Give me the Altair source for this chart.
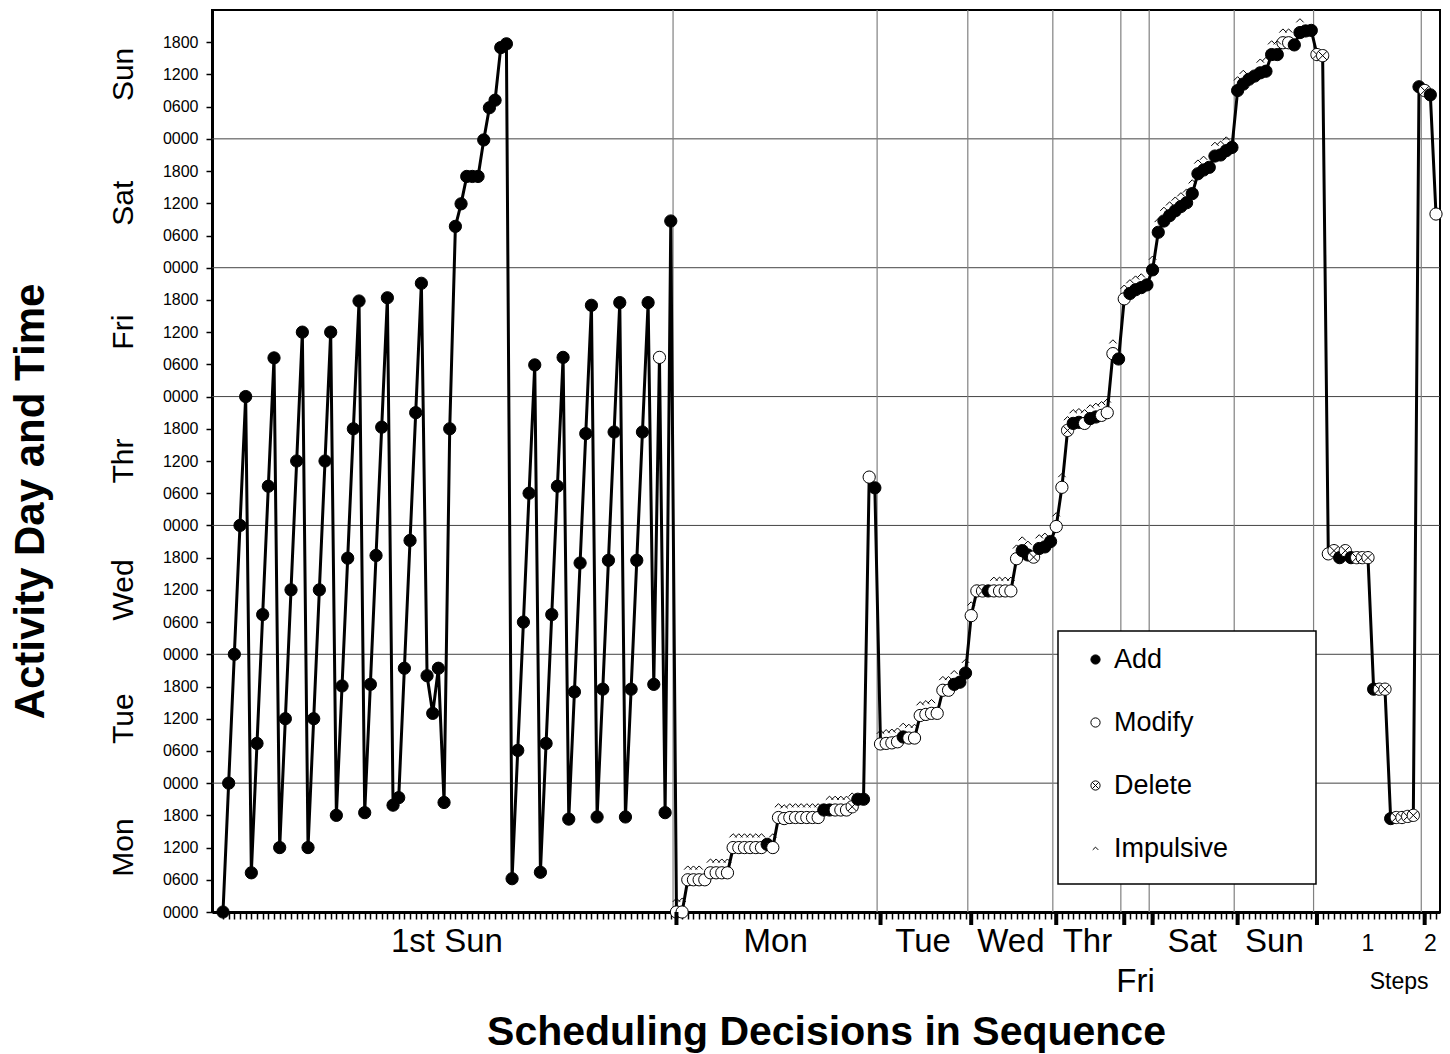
import altair as alt
import pandas as pd

# ---------------- data ----------------
hours_1st_sun = [0, 24, 48, 72, 96, 7.3, 31.4, 55.4, 79.3, 103.2, 12, 36, 60, 84, 108,
                 12, 36, 60, 84, 108, 18, 42.1, 65.9, 90, 113.8, 18.5, 42.4, 66.4, 90.3, 114.4,
                 19.9, 21.3, 45.4, 69.2, 93, 117.1, 44, 37, 45.4, 20.4, 90,
                 127.7, 131.9, 137, 137, 137, 143.8, 149.8, 151.2, 161, 161.7,
                 6.2, 30.1, 54, 78, 101.9, 7.4, 31.4, 55.4, 79.3, 103.3,
                 17.3, 41, 65, 89.1, 113, 17.7, 41.5, 65.5, 89.4, 113.5,
                 17.7, 41.5, 65.5, 89.4, 113.5, 42.4, 103.3, 18.5, 128.7]
kinds_1st_sun = "A" * 77 + "M" + "AA"
imp_1st_sun = [0] * 80

hours_mon = [0, 0, 6, 6, 6, 6, 7.3, 7.3, 7.3, 7.3, 12, 12, 12, 12, 12, 12, 12.6, 12,
             17.6, 17.4, 17.6, 17.6, 17.6, 17.6, 17.6, 17.6, 19, 19, 19, 19, 19, 19.6, 21, 21, 81, 79]
kinds_mon = "MM" + "MMMM" + "MMMM" + "MMMMMM" + "A" + "M" + "MMMMMMMM" + "AA" + "MMM" + "D" + "AA" + "M" + "A"
imp_mon = [1, 1, 1, 1, 1, 0, 1, 1, 1, 1, 1, 1, 1, 1, 1, 1, 0, 1,
           1, 1, 1, 1, 1, 1, 1, 1, 0, 1, 1, 1, 1, 1, 0, 0, 0, 0]

hours_tue = [31.3, 31.4, 31.5, 31.7, 32.6, 32.4, 32.4, 36.6, 36.8, 37, 37, 41.3, 41.3, 42.4, 42.8, 44.5]
kinds_tue = "MMMMAMMMMMMMMAAA"
imp_tue = [1, 1, 1, 1, 1, 1, 1, 1, 1, 1, 0, 1, 1, 1, 0, 1]

hours_wed = [55.2, 59.8, 59.8, 59.8, 59.8, 59.8, 59.8, 59.8, 65.8, 67.3, 66.5, 66.1, 67.7, 68, 69]
kinds_wed = "MMDAMMMMMAADAAA"
imp_wed = [1, 0, 0, 0, 1, 1, 1, 1, 1, 1, 1, 0, 1, 1, 0]

hours_thr = [71.8, 79.1, 89.7, 91, 91.2, 91, 91.9, 92.2, 92.5, 93, 104, 103]
kinds_thr = "MMDAAMAAMMMA"
imp_thr = [1, 1, 1, 1, 1, 1, 1, 1, 1, 1, 1, 0]

hours_fri = [114.2, 115.2, 115.9, 116.3, 116.8]
kinds_fri = "MAAAA"
imp_fri = [1, 1, 1, 1, 0]

hours_sat = [119.6, 126.6, 128.7, 129.7, 130.6, 131.4, 132.1, 133.8, 137.5, 138.2, 138.7,
             140.8, 141, 141.8, 142.4]
kinds_sat = "A" * 15
imp_sat = [1, 1, 1, 1, 1, 1, 1, 1, 1, 1, 0, 1, 1, 1, 0]

hours_sun = [153, 154.2, 155.1, 155.7, 156.3, 156.6, 159.7, 159.7, 161.9, 161.9, 161.5, 163.8, 164.1, 164.2]
kinds_sun = "AAAAAAAAMMAAAA"
imp_sun = [1, 1, 0, 0, 1, 1, 1, 1, 1, 1, 0, 1, 0, 0]

hours_step1 = [159.7, 159.5, 66.7, 67.3, 66, 67.3, 66, 66, 66, 66, 41.5, 41.5, 41.5,
               17.4, 17.6, 17.6, 17.8, 18, 153.7]
kinds_step1 = "DDMDADADDDADDADDDDA"
imp_step1 = [0] * 19

hours_step2 = [153, 152.2, 130]
kinds_step2 = "DAM"
imp_step2 = [0, 0, 0]

group_labels = ["1st Sun", "Mon", "Tue", "Wed", "Thr", "Fri", "Sat", "Sun", "1", "2"]
group_hours = [hours_1st_sun, hours_mon, hours_tue, hours_wed, hours_thr, hours_fri,
               hours_sat, hours_sun, hours_step1, hours_step2]
group_kinds = [kinds_1st_sun, kinds_mon, kinds_tue, kinds_wed, kinds_thr, kinds_fri,
               kinds_sat, kinds_sun, kinds_step1, kinds_step2]
group_imp = [imp_1st_sun, imp_mon, imp_tue, imp_wed, imp_thr, imp_fri,
             imp_sat, imp_sun, imp_step1, imp_step2]

day_names = ["Mon", "Tue", "Wed", "Thr", "Fri", "Sat", "Sun"]
kind_names = {"A": "Add", "M": "Modify", "D": "Delete"}
legend_order = ["Add", "Modify", "Delete", "Impulsive"]

# ---------------- tables ----------------
rows, starts, centers = [], [], []
i = 0
for g, (hs, ks, ims) in enumerate(zip(group_hours, group_kinds, group_imp)):
    starts.append(i)
    centers.append(i + (len(hs) - 1) / 2)
    for h, k, m in zip(hs, ks, ims):
        rows.append({"idx": i, "hours": h, "kind": kind_names[k], "imp": m})
        i += 1
N = i
df = pd.DataFrame(rows)
df_imp = df[df["imp"] == 1].copy()
df_imp["kind"] = "Impulsive"

grid_df = pd.DataFrame({"x": [s - 0.6 for s in starts[1:]]})
major_df = pd.DataFrame({"x": starts[1:]})
lab_main = pd.DataFrame({"x": centers[:8], "label": group_labels[:8]})
lab_main = lab_main[lab_main["label"] != "Fri"]
lab_fri = pd.DataFrame({"x": [centers[5]], "label": ["Fri"]})
lab_steps_num = pd.DataFrame({"x": centers[8:], "label": group_labels[8:]})
lab_steps = pd.DataFrame({"x": [(centers[8] + centers[9]) / 2], "label": ["Steps"]})
day_df = pd.DataFrame({"day": day_names, "h": [d * 24 + 12 for d in range(7)]})
day_bounds = pd.DataFrame({"h": [24, 48, 72, 96, 120, 144]})

W, H = 1228, 902
spacing = 1213 / (N - 1)
xdom = [-11 / spacing, -11 / spacing + W / spacing]

FONT = "Liberation Sans"

xscale = alt.Scale(domain=xdom, nice=False, zero=False)
yscale = alt.Scale(domain=[0, 168], nice=False, zero=False)

xaxis = alt.Axis(values=list(range(N)), labels=False, tickSize=7, tickWidth=1.5,
                 tickColor="black", domainColor="black", domainWidth=3, grid=False,
                 title="Scheduling Decisions in Sequence", titleFont=FONT, titleFontSize=41,
                 titleFontWeight="bold", titleColor="black", titleX=614, titleY=120,
                 titleBaseline="middle", titleAlign="center")
yaxis = alt.Axis(values=list(range(0, 168, 6)), tickSize=6, tickWidth=1.5, tickColor="black",
                 domainColor="black", domainWidth=3, grid=False, labelFont=FONT,
                 labelFontSize=16, labelColor="black", labelPadding=8,
                 labelExpr="(datum.value % 24 < 10 ? '0' : '') + (datum.value % 24) + '00'",
                 title="Activity Day and Time", titleFont=FONT, titleFontSize=42,
                 titleFontWeight="bold", titleColor="black", titleX=-182, titleY=491,
                 titleAngle=270, titleBaseline="middle", titleAlign="center")

X = alt.X("idx:Q", scale=xscale, axis=xaxis)
Y = alt.Y("hours:Q", scale=yscale, axis=yaxis)

delete_path = "M1,0A1,1,0,1,1,-1,0A1,1,0,1,1,1,0Z M-0.7,-0.7L0.7,0.7M-0.7,0.7L0.7,-0.7"
caret_path = "M-0.6,0.3L0,-0.3L0.6,0.3"
shape_scale = alt.Scale(domain=legend_order, range=["circle", "circle", delete_path, caret_path])
fill_scale = alt.Scale(domain=legend_order, range=["black", "white", "white", "transparent"])
stroke_scale = alt.Scale(domain=legend_order, range=["black", "black", "black", "black"])
leg = alt.Legend(title=None, orient="none", legendX=870, legendY=636, labelFont=FONT,
                 labelFontSize=27, labelColor="black", symbolSize=85, rowPadding=35,
                 labelOffset=5, symbolStrokeColor="black", symbolStrokeWidth=1, padding=0)

base = alt.Chart(df)

day_rules = alt.Chart(day_bounds).mark_rule(color="#444444", strokeWidth=1).encode(
    y=alt.Y("h:Q", scale=yscale, axis=yaxis))
seq_rules = alt.Chart(grid_df).mark_rule(color="#808080", strokeWidth=1.2).encode(
    x=alt.X("x:Q", scale=xscale, axis=xaxis))
legend_box = alt.Chart(pd.DataFrame({"a": [0]})).mark_rect(
    fill="white", stroke="black", strokeWidth=1.5).encode(
    x=alt.value(846), x2=alt.value(1104), y=alt.value(621), y2=alt.value(874))
line = base.mark_line(color="black", strokeWidth=3).encode(x=X, y=Y, order="idx:Q")


def symbol_enc(chart):
    return chart.encode(
        x=X, y=Y,
        shape=alt.Shape("kind:N", scale=shape_scale, legend=leg),
        fill=alt.Fill("kind:N", scale=fill_scale, legend=leg),
        stroke=alt.Stroke("kind:N", scale=stroke_scale, legend=leg))


pts = symbol_enc(base.mark_point(filled=True, strokeWidth=1, size=150, opacity=1))
carets = symbol_enc(alt.Chart(df_imp).mark_point(filled=True, strokeWidth=1, size=150,
                                                 opacity=1, yOffset=-12))
major = alt.Chart(major_df).mark_rule(color="black", strokeWidth=4).encode(
    x=alt.X("x:Q", scale=xscale, axis=xaxis), y=alt.value(H), y2=alt.value(H + 13))


def text_layer(d, ypix, size):
    return alt.Chart(d).mark_text(font=FONT, fontSize=size, color="black", baseline="middle",
                                  align="center").encode(
        x=alt.X("x:Q", scale=xscale, axis=xaxis), y=alt.value(ypix), text="label:N")


t_main = text_layer(lab_main, 932, 33)
t_fri = text_layer(lab_fri, 972, 33)
t_num = text_layer(lab_steps_num, 934, 23)
t_steps = text_layer(lab_steps, 972, 23)
t_days = alt.Chart(day_df).mark_text(font=FONT, fontSize=30, color="black", angle=270,
                                     baseline="middle", align="center").encode(
    x=alt.value(-88), y=alt.Y("h:Q", scale=yscale, axis=yaxis), text="day:N")

chart = alt.layer(day_rules, seq_rules, legend_box, line, pts, carets, major,
                  t_main, t_fri, t_num, t_steps, t_days).properties(
    width=W, height=H,
    autosize=alt.AutoSizeParams(type="none"),
    padding={"left": 212, "top": 10, "right": 10, "bottom": 142},
    background="white"
).configure_view(stroke="black", strokeWidth=2)

chart.save("out.html", embed_options={"renderer": "svg", "actions": False})
